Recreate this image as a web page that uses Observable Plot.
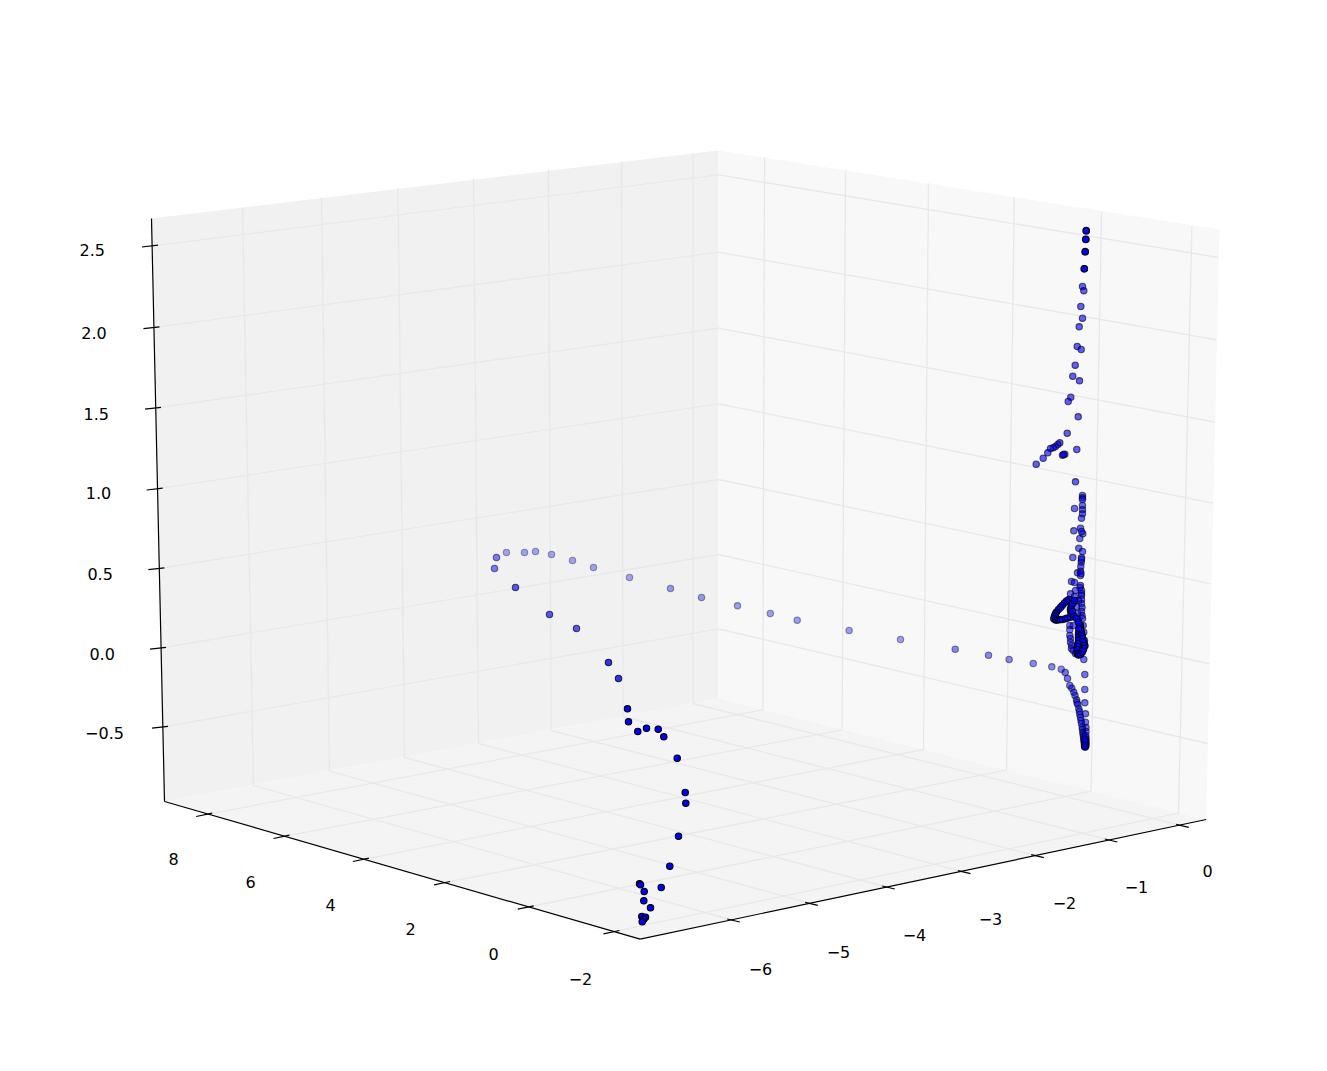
<!DOCTYPE html>
<html>
<head>
<meta charset="utf-8">
<script src="https://cdn.jsdelivr.net/npm/d3@7"></script>
<script src="https://cdn.jsdelivr.net/npm/@observablehq/plot@0.6"></script>
<style>html,body{margin:0;padding:0;background:#fff}svg{display:block}</style>
</head>
<body>
<div id="chart"></div>
<script>
// Tick labels of the three axes
const xTickLabels = ["−6","−5","−4","−3","−2","−1","0"];
const yTickLabels = ["8","6","4","2","0","−2"];
const zTickLabels = ["2.5","2.0","1.5","1.0","0.5","0.0","−0.5"];

// Picture-plane readings of the box corners (the chart is a 3D projection)
const corner = {
  leftTop:[151,218], backTop:[718,150], rightTop:[1219,229],
  leftBottom:[164,801], backBottom:[718,698], rightBottom:[1205.7,819], front:[639.6,938.7]
};
// Where each tick meets its axis edge
const xOnAxis = [[733,920],[811,903.3],[888,887],[963.7,871.7],[1037,855.7],[1110.6,840],[1182,825.3]];
const yOnAxis = [[203.7,814.3],[281,836.3],[360.4,859.3],[441.6,882.7],[525.3,907],[611,931.7]];
const zOnAxis = [[152,245.3],[153.5,327],[155,407.5],[156.7,488.3],[158.4,568],[160,647.5],[162,726.5]];
// Where each grid line meets the wall edges
const xOnWallTop = [[242,207],[321,197],[397.5,187.5],[473,178],[548,169],[621,161],[692.6,153]];
const xOnWallFoot = [[253,785],[329,770.7],[404,757],[478,743],[550.6,730],[622.5,716],[692.6,703]];
const yOnWallTop = [[764,156.7],[845,170],[928,183],[1013.8,197],[1101,211],[1191.4,225.7]];
const yOnWallFoot = [[762.4,709.3],[841.6,729.3],[923,749],[1006,769.7],[1090.6,790.7],[1178,812.7]];
const zOnBack = [[718,174.3],[718,251.7],[718,327.7],[718,403.3],[718,479],[718,554],[718,628.3]];
const zOnRight = [[1218,257],[1216,339.3],[1214.5,421.7],[1212.4,502.7],[1210.3,583.3],[1209,663.3],[1207,743]];
// Label centres
const xLabelAt = [[760,969],[838,952],[914,935],[990,919],[1064,903],[1136,887],[1207,871]];
const yLabelAt = [[173,859],[250,882],[330,905],[410,929],[493,954],[580,979]];
const zLabelAt = [[91.7,250.7],[93.5,333],[95.7,414],[98,493.7],[99.6,574],[101.6,654],[104,733]];

// Series of the scatter: [across, down], grouped by depth shade
const topRun = [[1085.7,230],[1085.7,230.6],[1085.3,238.7],[1085.3,239],[1084.7,251],[1084.7,251.4],[1083.7,268.3],[1083.9,268.3]];
const upperStack = [[1082,286],[1083.3,290.3],[1080.3,306],[1082,317.7],[1078.7,326.3],[1076.7,346],[1080.7,349],[1074.7,364.7],[1072.3,375.7],[1079,380.3],[1070.3,396.7],[1067.7,401],[1077.7,416.3],[1066.7,432.7],[1076.3,449],[1059.3,442.3],[1057.3,444],[1055,446],[1052.7,447.3],[1050,448],[1047.3,452.3],[1042.7,457.7],[1035.7,463.7],[1064.3,453.7],[1062,454.7],[1063,454],[1075,481.3]];
const midStack = [[1082,495],[1082,497.3],[1082,499],[1082,505],[1082,509.3],[1074,508],[1082,513.3],[1081,517.7],[1073.3,530.3],[1080,527.7],[1082.3,533.3],[1081,531],[1079.3,538],[1078.3,547.7],[1082,551],[1072.3,557],[1081,557.3],[1080.7,561.7],[1081,559],[1080.3,566],[1077,572.3],[1080,570.7],[1080,575],[1080.5,573],[1071,581],[1074,582],[1080,585],[1079.5,587],[1081,590],[1075,590],[1070,593.3],[1081,593],[1081,595],[1081,599],[1081,603],[1081.5,607],[1081,611],[1081.5,615],[1082,618],[1078,600],[1076,606],[1077,613],[1074,596],[1078,620]];
const lowerLight = [[1069.3,625],[1072.7,625],[1069.3,629.3],[1069.3,635],[1070,638],[1070,641.7],[1071,645],[1071,648.3],[1072.7,650],[1075,653.3],[1083.3,631.7],[1082.7,625],[1084,640],[1084.3,645.7]];
const loopRun = [[1073,601.7],[1070,599.5],[1068.3,599],[1066,600.5],[1064,602.5],[1061.7,605],[1060,607],[1058,609],[1056,611.5],[1055,613.3],[1054,615.5],[1053.3,618.3],[1055,619.5],[1056.5,619.5],[1058.3,619.3],[1060,619],[1062,619],[1065,618.3],[1067,617.5],[1070,616.7],[1070.5,613],[1070,610],[1070,608.3],[1071,605],[1072,603],[1074,600],[1072,611],[1074,616],[1076,618],[1078,622]];
const lowerDark = [[1080,625],[1080,627],[1079,629],[1078.3,631],[1078,634],[1078,637],[1078,640],[1077.5,643],[1077,646],[1076.7,649],[1076.7,653],[1078,654.5],[1080,654],[1081.7,651.7],[1083,649],[1084.3,645],[1083.5,642],[1082.5,639],[1081.7,635],[1081,632],[1080,629],[1078.3,628]];
const tailRun = [[1083.3,659],[1084.3,674],[1084.3,689],[1084.3,702.3],[1085,713.3],[1085,721.7],[1085.5,727],[1085.5,731],[1064.7,672],[1067,678],[1069.3,685],[1071.3,687.7],[1073.3,691.7],[1074.5,695],[1076,699.3],[1076.5,702],[1077.3,704],[1078.3,708.3],[1079,711],[1079.3,714],[1080,717],[1080.5,720],[1081,723],[1081.7,726.7],[1082,729],[1082.3,732],[1082.7,734],[1083,736],[1083.2,738],[1083.5,740],[1083.7,742],[1084,744],[1084,745.5],[1084.3,746.5],[1085,746.5],[1085.5,745],[1085.5,743],[1085.5,741],[1085.5,739],[1085.3,737],[1085.3,735],[1084.5,745.5],[1084.5,744],[1084.5,743],[1084.5,746],[1084,741],[1084.5,739]];
const arcNear = [[1060.7,668.7],[1051.3,666.3],[1032.7,663],[1008.6,659],[988,654.7],[954.7,648.7]];
const arcMid = [[900,639],[848.6,630],[796.7,619.7],[769.8,613],[737,605.3],[701,597],[670,588]];
const arcFar = [[629,577],[593,567],[572,560],[551,554],[535,551],[524,552],[506,552]];
const returnFar = [[496,557],[494,568]];
const returnMid = [[515,587],[549,614],[576,628]];
const returnNear = [[608,662],[618,678]];
const frontRun = [[627,708.3],[628,721.3],[637.3,731],[646,727.7],[657.7,728.7],[663.3,736.3],[676.7,757.7],[684.7,792],[685.3,802.7],[678,835.7],[669.3,865.7],[660.7,887],[639,883.3],[640,884.3],[643.7,891],[643.3,900.3],[650,907.3],[641.3,916],[645,916.7],[643.3,918.7],[641.7,921.3]];

// Depth shading of each run
const runs = [
  {pts: arcFar, shade: 0.34}, {pts: arcMid, shade: 0.38}, {pts: arcNear, shade: 0.46},
  {pts: returnFar, shade: 0.5}, {pts: returnMid, shade: 0.65}, {pts: returnNear, shade: 0.8},
  {pts: upperStack, shade: 0.62}, {pts: midStack, shade: 0.58}, {pts: lowerLight, shade: 0.55},
  {pts: lowerDark, shade: 0.9}, {pts: loopRun, shade: 0.85}, {pts: tailRun, shade: 0.55}, {pts: topRun, shade: 0.85},
  {pts: frontRun, shade: 1}
];
const dots = runs.flatMap(r => r.pts.map(([a, d]) => ({a, d, shade: r.shade})));

const seg = (A, B) => A.map((p, i) => ({x1: p[0], y1: p[1], x2: B[i][0], y2: B[i][1]}));
const poly = (...names) => names.map(n => ({x: corner[n][0], y: corner[n][1]}));
const tick = (A, [ax, ay], [bx, by]) => A.map(p => ({x1: p[0]+ax, y1: p[1]+ay, x2: p[0]+bx, y2: p[1]+by}));
const labels = (at, text) => at.map((p, i) => ({x: p[0], y: p[1], t: text[i]}));
const pane = (pts, fill) => Plot.line(pts, {x: "x", y: "y", fill, stroke: "none", curve: "linear-closed"});
const gridOpts = {x1: "x1", y1: "y1", x2: "x2", y2: "y2", stroke: "#e8e8e8", strokeWidth: 1.3};
const blackOpts = {x1: "x1", y1: "y1", x2: "x2", y2: "y2", stroke: "#000", strokeWidth: 1.2};
const textOpts = {x: "x", y: "y", text: "t", fill: "#000", fontSize: 16, textAnchor: "middle", lineAnchor: "middle"};

const chart = Plot.plot({
  width: 1327, height: 1071,
  marginTop: 0, marginRight: 0, marginBottom: 0, marginLeft: 0,
  x: {domain: [0, 1327], range: [0, 1327], axis: null},
  y: {domain: [0, 1071], range: [0, 1071], axis: null},
  style: {background: "#fff", fontFamily: "'DejaVu Sans', sans-serif", overflow: "visible"},
  marks: [
    pane(poly("leftTop","backTop","backBottom","leftBottom"), "#f1f1f1"),
    pane(poly("backTop","rightTop","rightBottom","backBottom"), "#f8f8f8"),
    pane(poly("leftBottom","backBottom","rightBottom","front"), "#f4f4f4"),
    Plot.link(seg(xOnWallTop, xOnWallFoot), gridOpts),
    Plot.link(seg(xOnWallFoot, xOnAxis), gridOpts),
    Plot.link(seg(yOnWallTop, yOnWallFoot), gridOpts),
    Plot.link(seg(yOnWallFoot, yOnAxis), gridOpts),
    Plot.link(seg(zOnAxis, zOnBack), gridOpts),
    Plot.link(seg(zOnBack, zOnRight), gridOpts),
    Plot.link(seg([corner.leftTop, corner.leftBottom, corner.front], [corner.leftBottom, corner.front, corner.rightBottom]), blackOpts),
    Plot.link(tick(xOnAxis, [-6.3,-1.5], [6.3,1.5]), blackOpts),
    Plot.link(tick(yOnAxis, [-8,1.7], [8,-1.7]), blackOpts),
    Plot.link(tick(zOnAxis, [-10.5,1.2], [5.5,-0.6]), blackOpts),
    Plot.text(labels(xLabelAt, xTickLabels), textOpts),
    Plot.text(labels(yLabelAt, yTickLabels), textOpts),
    Plot.text(labels(zLabelAt, zTickLabels), textOpts),
    Plot.dot(dots, {x: "a", y: "d", r: 3.2, fill: "#0000ff", stroke: "#000", strokeWidth: 1.1,
      fillOpacity: "shade", strokeOpacity: "shade"})
  ]
});
document.getElementById("chart").append(chart);
</script>
</body>
</html>
